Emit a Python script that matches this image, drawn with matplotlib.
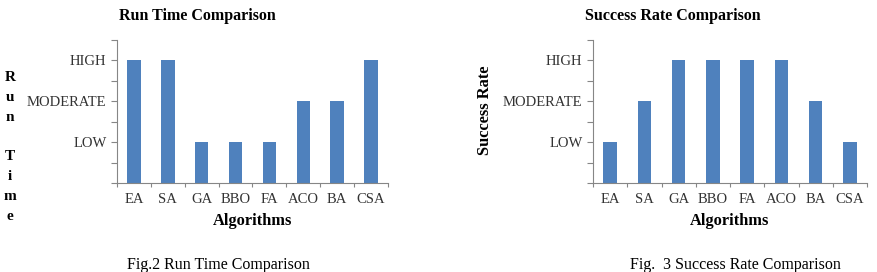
import numpy as np
import matplotlib
matplotlib.use("Agg")
import matplotlib.pyplot as plt

algorithms = ['EA', 'SA', 'GA', 'BBO', 'FA', 'ACO', 'BA', 'CSA']
# 1 = LOW, 2 = MODERATE, 3 = HIGH
run_time = [3, 3, 1, 1, 1, 2, 2, 3]
success_rate = [1, 2, 3, 3, 3, 3, 2, 1]
level_labels = ['LOW', 'MODERATE', 'HIGH']

W, H = 878, 272
BAR = '#4F81BD'
AXIS = '#868686'
plt.rcParams['font.family'] = ['Liberation Serif', 'DejaVu Serif']

fig = plt.figure(figsize=(W / 100, H / 100), dpi=100)


def px(x, y):
    return x / W, 1 - y / H


def draw_panel(left, right, values):
    ax = fig.add_axes([left / W, 1 - 183 / H, (right - left) / W, 143 / H])
    x = np.arange(len(algorithms))
    ax.bar(x, values, width=0.4, color=BAR, zorder=2)
    ax.set_xlim(-0.5, len(algorithms) - 0.5)
    ax.set_ylim(0, 3.5)

    yt = np.arange(0, 3.51, 0.5)
    ax.set_yticks(yt)
    ylabs = [''] * len(yt)
    for i, lab in enumerate(level_labels):
        ylabs[int((i + 1) * 2)] = lab
    ax.set_yticklabels(ylabs, fontsize=10.5, color='#333333')
    ax.tick_params(axis='y', length=4, width=0.8, color=AXIS, pad=3.5)

    ax.set_xticks(np.arange(-0.5, len(algorithms)), labels=[''] * (len(algorithms) + 1))
    ax.set_xticks(x, labels=algorithms, minor=True)
    ax.tick_params(axis='x', which='major', length=3, width=0.8, color=AXIS, direction='out')
    ax.tick_params(axis='x', which='minor', length=0, pad=7, labelsize=10.5, labelcolor='#333333')

    for s in ['top', 'right']:
        ax.spines[s].set_visible(False)
    for s in ['left', 'bottom']:
        ax.spines[s].set_color(AXIS)
        ax.spines[s].set_linewidth(0.8)
    return ax


draw_panel(117, 388, run_time)
draw_panel(593, 867, success_rate)

# titles
fig.text(*px(197, 16), 'Run Time Comparison', ha='center', va='center',
         fontsize=11.5, fontweight='bold')
fig.text(*px(673, 16), 'Success Rate Comparison', ha='center', va='center',
         fontsize=11.5, fontweight='bold')

# x labels
fig.text(*px(253, 221), 'Algorithms', ha='center', va='center',
         fontsize=11.8, fontweight='bold')
fig.text(*px(730, 221), 'Algorithms', ha='center', va='center',
         fontsize=11.8, fontweight='bold')

# y labels
fig.text(*px(10, 147), 'R\nu\nn\n\nT\ni\nm\ne', ha='center', va='center',
         fontsize=11, fontweight='bold', linespacing=1.68)
fig.text(*px(485, 110), 'Success Rate', ha='center', va='center',
         rotation=90, fontsize=11.8, fontweight='bold')

# captions
fig.text(*px(218, 265), 'Fig.2 Run Time Comparison', ha='center', va='center',
         fontsize=11.5)
fig.text(*px(735, 265), 'Fig.  3 Success Rate Comparison', ha='center', va='center',
         fontsize=11.5)

fig.savefig('out.png', dpi=100)
